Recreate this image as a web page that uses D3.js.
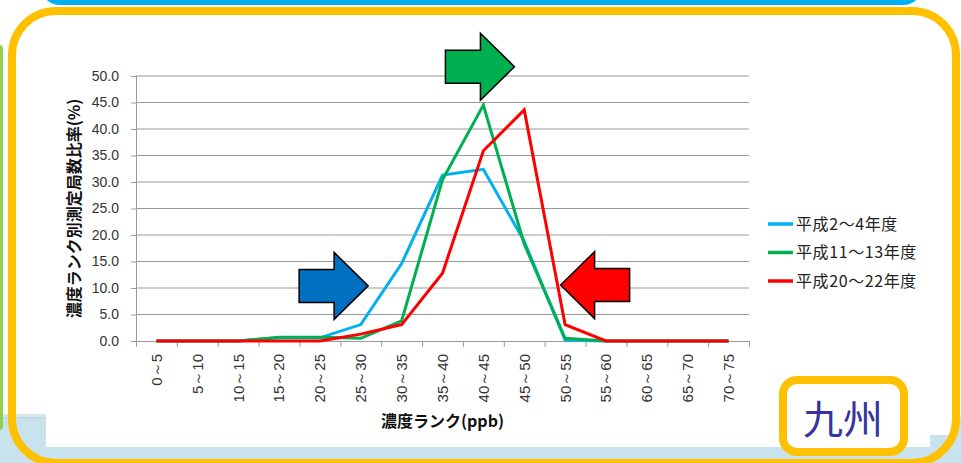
<!DOCTYPE html>
<html>
<head>
<meta charset="utf-8">
<script src="https://cdn.jsdelivr.net/npm/d3@7"></script>
<style>
  body { margin: 0; background: #fff; }
  svg { display: block; font-family: "Noto Sans CJK JP", "Noto Sans", sans-serif; }
</style>
</head>
<body>
<svg width="961" height="463"></svg>
<script>
// categories and series (濃度ランク別測定局数比率, %)
var categories = ["0～5", "5～10", "10～15", "15～20", "20～25", "25～30", "30～35", "35～40",
                  "40～45", "45～50", "50～55", "55～60", "60～65", "65～70", "70～75"];
var seriesNames = ["平成2～4年度", "平成11～13年度", "平成20～22年度"];
var h2to4 = [0, 0, 0, 0.6, 0.6, 3.1, 14.6, 31.3, 32.4, 18.8, 0.2, 0, 0, 0, 0];
var h11to13 = [0, 0, 0, 0.7, 0.7, 0.5, 3.8, 30.4, 44.5, 18.3, 0.5, 0, 0, 0, 0];
var h20to22 = [0, 0, 0, 0, 0, 1.3, 3.1, 12.8, 35.9, 43.6, 3.1, 0, 0, 0, 0];
var yTicks = [0, 5, 10, 15, 20, 25, 30, 35, 40, 45, 50];
var colors = ["#00B0F0", "#00B050", "#FF0000"];

// arrow annotations: tip position in data space (category index, %)
var arrows = [
    {idx: 5.68, val: 10.4, dir: 1, fill: "#0070C0"},
    {idx: 9.26, val: 51.75, dir: 1, fill: "#00B050"},
    {idx: 10.39, val: 10.55, dir: -1, fill: "#FF0000"}
];

var svg = d3.select("svg"),
    width = +svg.attr("width"),
    height = +svg.attr("height");

//Background and frames
svg.append("rect").attr("x", 0).attr("y", 417).attr("width", width).attr("height", 46).attr("fill", "#C8E3EE");
svg.append("rect").attr("x", 0).attr("y", 414).attr("width", 48).attr("height", 5).attr("fill", "#BBD6E0").attr("opacity", 0.6);
svg.append("rect").attr("x", -4).attr("y", 45).attr("width", 7).attr("height", 385).attr("rx", 4).attr("fill", "#92D050");
svg.append("rect").attr("x", 40).attr("y", -40).attr("width", 883).attr("height", 45).attr("rx", 20).attr("fill", "#00B0F0");
svg.append("rect").attr("x", 46).attr("y", 45).attr("width", 884).attr("height", 402).attr("fill", "#fff");
svg.append("rect").attr("x", 928).attr("y", 410).attr("width", 26).attr("height", 25).attr("fill", "#fff");
svg.append("rect")
    .attr("x", 12).attr("y", 11).attr("width", 944).attr("height", 452).attr("rx", 44)
    .attr("fill", "none").attr("stroke", "#FFC000").attr("stroke-width", 8);

var margin = {top: 76, right: 212, bottom: 122, left: 136};
var innerWidth = width - margin.left - margin.right;
var innerHeight = height - margin.top - margin.bottom;

var xScale = d3.scaleBand().domain(categories).range([0, innerWidth]);
var xIndex = d3.scaleLinear().domain([0, categories.length]).range([0, innerWidth]);
var yScale = d3.scaleLinear().domain([0, 50]).range([innerHeight, 0]);

var g = svg.append("g").attr("transform", `translate(${margin.left},${margin.top})`);

//Gridlines
g.append("g").selectAll("line").data(yTicks.slice(1)).join("line")
    .attr("x1", 0).attr("x2", innerWidth)
    .attr("y1", d => yScale(d)).attr("y2", d => yScale(d))
    .attr("stroke", "#999").attr("stroke-width", 1);

//Y axis
var yAxis = g.append("g")
    .call(d3.axisLeft(yScale).tickValues(yTicks).tickFormat(d3.format(".1f")).tickSize(5).tickPadding(12));
yAxis.attr("font-family", "'Liberation Sans', sans-serif").attr("font-size", 14);
yAxis.select(".domain").attr("stroke", "#999");
yAxis.selectAll(".tick line").attr("stroke", "#999");
yAxis.selectAll("text").attr("fill", "#333");

//X axis ticks at category boundaries
var xTickAxis = g.append("g").attr("transform", `translate(0,${innerHeight})`)
    .call(d3.axisBottom(xIndex).tickValues(d3.range(categories.length + 1)).tickSize(6).tickFormat(""));
xTickAxis.select(".domain").attr("stroke", "#999");
xTickAxis.selectAll(".tick line").attr("stroke", "#999");

//X axis labels
var xAxis = g.append("g").attr("transform", `translate(0,${innerHeight})`)
    .call(d3.axisBottom(xScale).tickSize(0));
xAxis.attr("font-size", 15);
xAxis.select(".domain").remove();
xAxis.selectAll("text")
    .attr("transform", "rotate(-90)")
    .attr("x", -13).attr("y", 0).attr("dy", "0.36em")
    .style("text-anchor", "end")
    .attr("fill", "#333");

//Axis titles
svg.append("text")
    .attr("transform", `translate(74,${margin.top + innerHeight / 2}) rotate(-90)`)
    .attr("text-anchor", "middle").attr("dy", "0.35em")
    .attr("font-size", 16).attr("font-weight", 700).attr("fill", "#111")
    .text("濃度ランク別測定局数比率(%)");

svg.append("text")
    .attr("x", margin.left + innerWidth / 2).attr("y", 427)
    .attr("text-anchor", "middle")
    .attr("font-size", 16).attr("font-weight", 700).attr("fill", "#111")
    .text("濃度ランク(ppb)");

//Lines
var seriesData = [h2to4, h11to13, h20to22];
var lineGenerator = d3.line()
    .x((d, i) => xScale(categories[i]) + xScale.bandwidth() / 2)
    .y(d => yScale(d));

g.selectAll(".line-path").data(seriesData).join("path")
    .attr("class", "line-path")
    .attr("d", d => lineGenerator(d))
    .attr("fill", "none")
    .attr("stroke", (d, i) => colors[i])
    .attr("stroke-width", 3)
    .attr("stroke-linejoin", "miter");

//Legend
var legend = svg.append("g").attr("transform", "translate(768,224)");
var item = legend.selectAll("g").data(seriesNames).join("g")
    .attr("transform", (d, i) => `translate(0,${i * 28.5})`);
item.append("line").attr("x1", 0).attr("x2", 25)
    .attr("stroke", (d, i) => colors[i]).attr("stroke-width", 3.5);
item.append("text").attr("x", 28).attr("dy", "0.36em")
    .attr("font-size", 16).attr("letter-spacing", 0.6).attr("fill", "#222")
    .text(d => d);

//Arrows
var bodyLen = 35, headLen = 34, bodyH = 33, headH = 67;
function arrowPath(a) {
    var tx = margin.left + xIndex(a.idx), ty = margin.top + yScale(a.val), s = -a.dir;
    var hx = tx + s * headLen, bx = hx + s * bodyLen;
    var pts = [[tx, ty], [hx, ty - headH / 2], [hx, ty - bodyH / 2], [bx, ty - bodyH / 2],
               [bx, ty + bodyH / 2], [hx, ty + bodyH / 2], [hx, ty + headH / 2]];
    return "M" + pts.join("L") + "Z";
}
svg.append("g").selectAll("path").data(arrows).join("path")
    .attr("d", arrowPath)
    .attr("fill", d => d.fill)
    .attr("stroke", "#000").attr("stroke-width", 1.5).attr("stroke-linejoin", "miter");

//九州 label box
svg.append("rect")
    .attr("x", 783).attr("y", 380).attr("width", 121).attr("height", 72).attr("rx", 14)
    .attr("fill", "#fff").attr("stroke", "#FFC000").attr("stroke-width", 8);
svg.append("text")
    .attr("x", 843).attr("y", 420).attr("dy", "0.35em")
    .attr("text-anchor", "middle")
    .attr("font-size", 40).attr("font-weight", 400).attr("fill", "#3535A0")
    .text("九州");
</script>
</body>
</html>
